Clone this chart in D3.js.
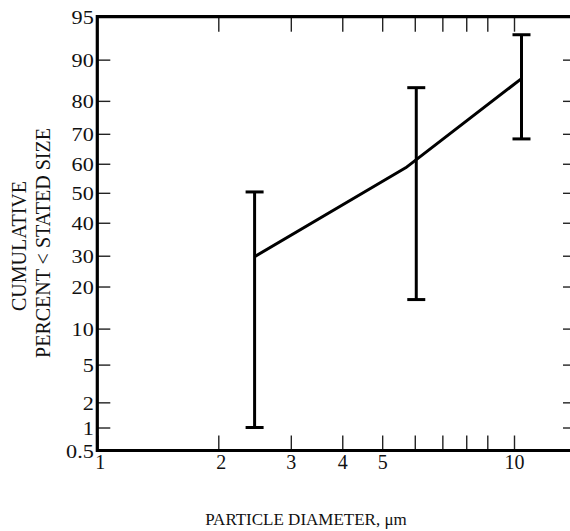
<!DOCTYPE html>
<html><head><meta charset="utf-8">
<script src="https://cdn.jsdelivr.net/npm/d3@7"></script>
<style>body{margin:0;background:#fff}svg{display:block}</style></head>
<body><svg id="c" width="570" height="531"></svg>
<script>
// ---- data ----
const xTicks = [1, 2, 3, 4, 5, 6, 7, 8, 9, 10];
const xTickLabels = ["1", "2", "3", "4", "5", "", "", "", "", "10"];
const yTicks = [0.5, 1, 2, 5, 10, 20, 30, 40, 50, 60, 70, 80, 90, 95];
const yTickLabels = ["0.5", "1", "2", "5", "10", "20", "30", "40", "50", "60", "70", "80", "90", "95"];
const sizes = [2.45, 6.05, 10.3];          // particle diameter, µm
const upperPct = [50.3, 83.2, 92.9];       // error bar top
const lowerPct = [1.0, 16.9, 68.3];        // error bar bottom
const curveSizes = [2.45, 5.7, 10.3];      // drawn curve vertices
const curvePct = [29.7, 58.6, 85.4];
const xTitle = "PARTICLE DIAMETER, \u03bcm";
const yTitle = ["CUMULATIVE", "PERCENT < STATED SIZE"];

// ---- layout ----
const W = 570, H = 531;
const mLeft = 97.3, mTop = 16.7, mBottom = 450.5, rightEdge = 572;
const font = "'Liberation Serif', 'Times New Roman', serif";

const svg = d3.select("#c");

// log-size axis (calibrated polylinear log scale)
const x = d3.scaleLog().domain([1, 2, 9, 10]).range([mLeft, 218.3, 487.3, 514]);
// probability-type percent axis (calibrated polylinear scale)
const yFrac = [0, 0.053, 0.111, 0.198, 0.281, 0.378, 0.449, 0.525, 0.594, 0.661, 0.730, 0.806, 0.901, 1];
const y = d3.scaleLinear().domain(yTicks).range(yFrac.map(f => mBottom - f * (mBottom - mTop)));

// axes (ticks inward)
const tickStyle = g => {
  g.select(".domain").remove();
  g.selectAll(".tick line").attr("stroke", "#222").attr("stroke-width", 1.4);
  g.selectAll(".tick text").attr("font-family", font).attr("font-size", 20).attr("fill", "#111");
};

svg.append("g").attr("transform", `translate(${mLeft},0)`)
  .call(d3.axisLeft(y).tickValues(yTicks).tickSize(-13).tickPadding(3)
    .tickFormat((d, i) => yTickLabels[i]))
  .call(tickStyle)
  .call(g => g.selectAll(".tick text")
    .attr("font-size", 19).attr("dy", "0.36em")
    .attr("transform", "scale(1.17,1)"));

svg.append("g").attr("transform", `translate(${rightEdge},0)`)
  .call(d3.axisRight(y).tickValues(yTicks.slice(1, -1)).tickSize(-9).tickFormat(""))
  .call(tickStyle);

svg.append("g").attr("transform", `translate(0,${mBottom})`)
  .call(d3.axisBottom(x).tickValues(xTicks).tickSize(-15).tickPadding(4)
    .tickFormat((d, i) => xTickLabels[i]))
  .call(tickStyle)
  .call(g => g.selectAll(".tick text").filter(d => d < 2.5).attr("dx", 2.5));

svg.append("g").attr("transform", `translate(0,${mTop})`)
  .call(d3.axisTop(x).tickValues(xTicks.slice(1)).tickSize(-15).tickFormat(""))
  .call(tickStyle);

// frame
const frame = svg.append("g").attr("stroke", "#000").attr("stroke-width", 3.2).attr("fill", "none");
frame.append("line").attr("x1", mLeft).attr("x2", W + 2).attr("y1", mTop).attr("y2", mTop);
frame.append("line").attr("x1", mLeft).attr("x2", W + 2).attr("y1", mBottom).attr("y2", mBottom);
frame.append("line").attr("x1", mLeft).attr("x2", mLeft).attr("y1", mTop - 1.6).attr("y2", mBottom + 1.6);

// curve
svg.append("path")
  .datum(curveSizes.map((s, i) => [s, curvePct[i]]))
  .attr("fill", "none").attr("stroke", "#000").attr("stroke-width", 3)
  .attr("stroke-linejoin", "round")
  .attr("d", d3.line().x(d => x(d[0])).y(d => y(d[1])));

// error bars
const capW = 18;
const bars = svg.append("g").attr("stroke", "#000").attr("stroke-width", 3);
sizes.forEach((s, i) => {
  const cx = x(s);
  bars.append("line").attr("x1", cx).attr("x2", cx).attr("y1", y(lowerPct[i])).attr("y2", y(upperPct[i]));
  bars.append("line").attr("x1", cx - capW / 2).attr("x2", cx + capW / 2).attr("y1", y(lowerPct[i])).attr("y2", y(lowerPct[i]));
  bars.append("line").attr("x1", cx - capW / 2).attr("x2", cx + capW / 2).attr("y1", y(upperPct[i])).attr("y2", y(upperPct[i]));
});

// titles
svg.append("text").attr("x", 306).attr("y", 525).attr("text-anchor", "middle")
  .attr("font-family", font).attr("font-size", 17).attr("fill", "#111").text(xTitle);

const yt = svg.append("text").attr("transform", "rotate(-90)")
  .attr("text-anchor", "middle").attr("font-family", font).attr("font-size", 20).attr("fill", "#111");
yt.append("tspan").attr("x", -246).attr("y", 26).text(yTitle[0]);
yt.append("tspan").attr("x", -243).attr("y", 49.5).text(yTitle[1]);
</script>
</body></html>
